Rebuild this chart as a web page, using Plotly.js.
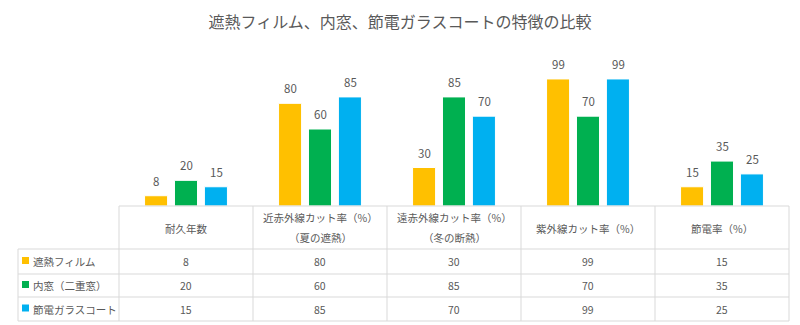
<!DOCTYPE html>
<html>
<head>
<meta charset="utf-8">
<script src="https://cdn.plot.ly/plotly-3.0.1.min.js"></script>
<style>html,body{margin:0;padding:0;background:#fff;}#chart{width:800px;height:325px;}</style>
</head>
<body>
<div id="chart"></div>
<script>
const categories = ['耐久年数', '近赤外線カット率（%）', '遠赤外線カット率（%）', '紫外線カット率（%）', '節電率（%）'];
const headerLine2 = ['', '（夏の遮熱）', '（冬の断熱）', '', ''];
const seriesNames = ['遮熱フィルム', '内窓（二重窓）', '節電ガラスコート'];
const filmValues = [8, 80, 30, 99, 15];
const innerWindowValues = [20, 60, 85, 70, 35];
const coatValues = [15, 85, 70, 99, 25];
const seriesColors = ['#FFC000', '#00B050', '#00B0F0'];

const seriesValues = [filmValues, innerWindowValues, coatValues];
const FONT = '"Noto Sans CJK JP", "Noto Sans", sans-serif';
const TEXT = '#595959';
const GRID = '#D9D9D9';

// layout geometry (pixels)
const W = 800, H = 325;
const plotL = 119, plotR = 789, plotT = 52, plotB = 206;
const plotH = plotB - plotT, plotW = plotR - plotL;
const py = p => (plotB - p) / plotH;      // pixel y -> paper y
const px = p => (p - plotL) / plotW;      // pixel x -> paper x
const slotPx = 30;                         // bar slot width in group

const traces = seriesNames.map((name, k) => ({
  type: 'bar',
  name: name,
  x: categories,
  y: seriesValues[k],
  marker: {color: seriesColors[k], line: {color: '#ffffff', width: 1}},
  hoverinfo: 'skip'
}));

const shapes = [];
const annotations = [];

// data labels above bars
seriesValues.forEach((vals, k) => {
  vals.forEach((v, i) => {
    annotations.push({xref: 'x', yref: 'y', x: categories[i], y: v, text: String(v),
      showarrow: false, xanchor: 'center', yanchor: 'bottom',
      xshift: (k - 1) * slotPx, yshift: 5,
      font: {family: FONT, size: 11.5, color: TEXT}});
  });
});

const rowLines = [249, 274, 297, 321];
const line = (x0, y0, x1, y1) => ({
  type: 'line', xref: 'paper', yref: 'paper',
  x0: x0, y0: y0, x1: x1, y1: y1,
  line: {color: GRID, width: 1}, layer: 'above'
});
shapes.push(line(0, 0, 1, 0));
rowLines.forEach(r => shapes.push(line(px(18), py(r), 1, py(r))));
for (let i = 0; i <= categories.length; i++) {
  const xp = i / categories.length;
  shapes.push(line(xp, 0, xp, py(321)));
}
shapes.push(line(px(18), py(249), px(18), py(321)));

// header text
const TS = 10.5;
categories.forEach((c, i) => {
  const xc = (i + 0.5) / categories.length;
  if (headerLine2[i]) {
    annotations.push({xref: 'paper', yref: 'paper', x: xc, y: py(217), text: c, showarrow: false,
      font: {family: FONT, size: TS, color: TEXT}, xanchor: 'center', yanchor: 'middle'});
    annotations.push({xref: 'paper', yref: 'paper', x: xc, y: py(237), text: headerLine2[i], showarrow: false,
      font: {family: FONT, size: TS, color: TEXT}, xanchor: 'center', yanchor: 'middle'});
  } else {
    annotations.push({xref: 'paper', yref: 'paper', x: xc, y: py(228), text: c, showarrow: false,
      font: {family: FONT, size: TS, color: TEXT}, xanchor: 'center', yanchor: 'middle'});
  }
});

// data rows
const rowCenters = [261.5, 285.5, 309];
seriesNames.forEach((name, k) => {
  const yc = py(rowCenters[k]);
  shapes.push({type: 'rect', xref: 'paper', yref: 'paper',
    x0: px(22), x1: px(29), y0: yc - 2.5 / plotH, y1: yc + 4.5 / plotH,
    fillcolor: seriesColors[k], line: {width: 0}, layer: 'above'});
  annotations.push({xref: 'paper', yref: 'paper', x: px(31), y: yc, text: name, showarrow: false,
    font: {family: FONT, size: TS, color: TEXT}, xanchor: 'left', yanchor: 'middle'});
  seriesValues[k].forEach((v, i) => {
    annotations.push({xref: 'paper', yref: 'paper', x: (i + 0.5) / categories.length, y: yc,
      text: String(v), showarrow: false,
      font: {family: FONT, size: TS, color: TEXT}, xanchor: 'center', yanchor: 'middle'});
  });
});

const layout = {
  width: W, height: H,
  margin: {l: plotL, r: W - plotR, t: plotT, b: H - plotB, pad: 0},
  paper_bgcolor: '#ffffff', plot_bgcolor: '#ffffff',
  title: {text: '遮熱フィルム、内窓、節電ガラスコートの特徴の比較',
    font: {family: FONT, size: 16, color: TEXT},
    x: 0.5, xanchor: 'center', xref: 'container', y: 1 - 22 / H, yref: 'container', yanchor: 'middle'},
  barmode: 'group', bargap: 0.33, bargroupgap: 0.23,
  showlegend: false,
  xaxis: {type: 'category', showticklabels: false, showline: false, showgrid: false,
    zeroline: false, ticks: '', range: [-0.5, 4.5], fixedrange: true},
  yaxis: {range: [0, 120], showticklabels: false, showgrid: false, zeroline: false,
    showline: false, ticks: '', fixedrange: true},
  shapes: shapes,
  annotations: annotations,
  font: {family: FONT, color: TEXT}
};

Plotly.newPlot('chart', traces, layout, {displayModeBar: false, staticPlot: true});
</script>
</body>
</html>
